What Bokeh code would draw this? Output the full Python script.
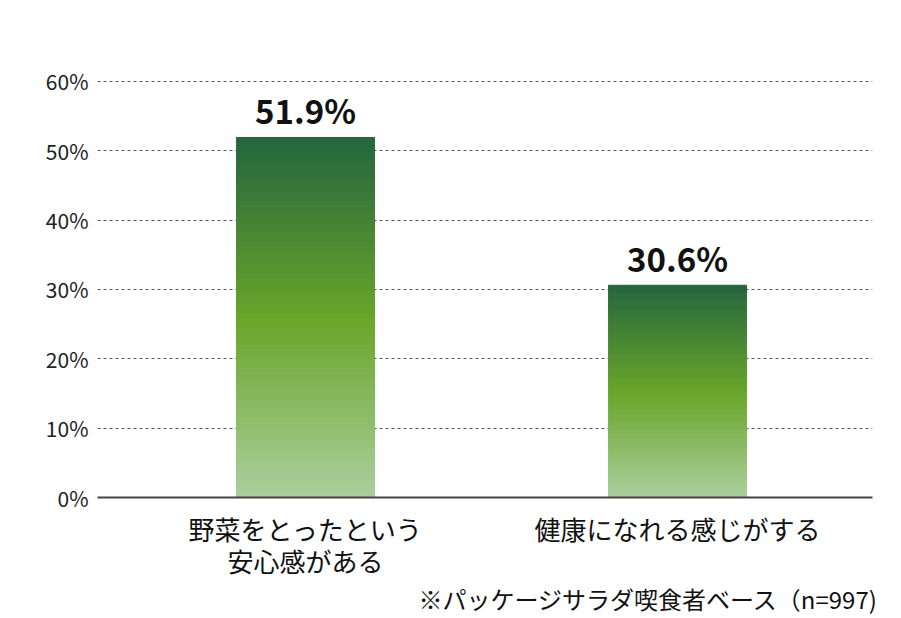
from bokeh.plotting import figure
from bokeh.models import FixedTicker, Range1d, LabelSet, ColumnDataSource, Title
from bokeh.core.properties import value
from bokeh.embed import file_html
from bokeh.resources import INLINE

categories = ["野菜をとったという\n安心感がある", "健康になれる感じがする"]
values = [51.9, 30.6]
value_labels = ["51.9%", "30.6%"]
y_ticks = [0, 10, 20, 30, 40, 50, 60]
y_tick_labels = ["0%", "10%", "20%", "30%", "40%", "50%", "60%"]
footnote = "※パッケージサラダ喫食者ベース（n=997)"

FONT = "Noto Sans CJK JP"

p = figure(width=893, height=618, output_backend="svg", toolbar_location=None,
           x_range=Range1d(0.441, 2.524), y_range=Range1d(0, 63),
           min_border_left=97, min_border_right=21, min_border_top=60, min_border_bottom=121)
p.outline_line_color = None
p.background_fill_color = "white"
p.border_fill_color = "white"

# gradient bars built from thin slices
stops = [(0.0, (0xab, 0xcf, 0x9e)), (0.5, (0x69, 0xa5, 0x2a)), (1.0, (0x25, 0x66, 0x3e))]

def grad(t):
    for (t0, c0), (t1, c1) in zip(stops[:-1], stops[1:]):
        if t <= t1:
            f = (t - t0) / (t1 - t0)
            return "#%02x%02x%02x" % tuple(int(round(a + (b - a) * f)) for a, b in zip(c0, c1))
    return "#%02x%02x%02x" % stops[-1][1]

N = 80
xs = list(range(1, len(values) + 1))
left, right, bottom, top, colors = [], [], [], [], []
for x, v in zip(xs, values):
    for i in range(N):
        left.append(x - 0.1855)
        right.append(x + 0.1855)
        bottom.append(v * i / N)
        top.append(v * (i + 1) / N)
        colors.append(grad((i + 0.5) / N))
p.quad(left=left, right=right, bottom=bottom, top=top, fill_color=colors, line_color=colors, line_width=1)

src = ColumnDataSource(dict(x=xs, y=values, t=value_labels))
p.add_layout(LabelSet(x="x", y="y", text="t", source=src, text_align="center", text_baseline="bottom",
                      y_offset=3, text_font=value(FONT), text_font_style="bold", text_font_size="33px",
                      text_color="#111111"))

# axes
p.xaxis.ticker = FixedTicker(ticks=xs)
p.xaxis.major_label_overrides = {x: c for x, c in zip(xs, categories)}
p.xaxis.major_label_text_font = FONT
p.xaxis.major_label_text_font_size = "26px"
p.xaxis.major_label_text_line_height = 0.88
p.xaxis.major_label_text_color = "#111111"
p.xaxis.major_label_standoff = 6
p.xaxis.major_tick_line_color = None
p.xaxis.minor_tick_line_color = None
p.xaxis.axis_line_color = "#444444"
p.xaxis.axis_line_width = 2

p.yaxis.ticker = FixedTicker(ticks=y_ticks)
p.yaxis.major_label_overrides = {t: l for t, l in zip(y_ticks, y_tick_labels)}
p.yaxis.major_label_text_font = FONT
p.yaxis.major_label_text_font_size = "21px"
p.yaxis.major_label_text_color = "#222222"
p.yaxis.major_label_standoff = 3
p.yaxis.axis_line_color = None
p.yaxis.major_tick_line_color = None
p.yaxis.minor_tick_line_color = None

p.xgrid.grid_line_color = None
p.ygrid.ticker = FixedTicker(ticks=y_ticks[1:])
p.ygrid.grid_line_color = "#555555"
p.ygrid.grid_line_dash = "3 3"
p.ygrid.grid_line_width = 1.2

p.add_layout(Title(text=footnote, align="right", text_font=FONT,
                   text_font_size="24px", text_font_style="normal", text_color="#111111",
                   offset=-6, standoff=-7, text_line_height=0.7), "below")

open("out.html", "w").write(file_html(p, INLINE))
